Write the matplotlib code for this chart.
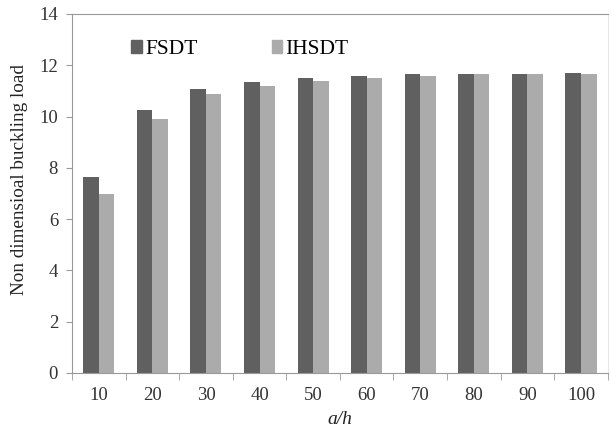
import numpy as np
import matplotlib.pyplot as plt
from matplotlib.patches import Patch

# buckling load vs a/h ratio
ratios = ['10', '20', '30', '40', '50', '60', '70', '80', '90', '100']
fsdt = [7.65, 10.27, 11.09, 11.33, 11.52, 11.60, 11.65, 11.66, 11.66, 11.70]
ihsdt = [6.99, 9.92, 10.86, 11.20, 11.40, 11.52, 11.58, 11.65, 11.65, 11.65]

plt.rcParams['font.family'] = ['Liberation Serif', 'DejaVu Serif']

fig = plt.figure(figsize=(6.11, 4.36), dpi=100)
ax = fig.add_axes([0.1178, 0.1445, 0.877, 0.8235])

x = np.arange(len(ratios))
w = 0.29
c1 = '#606060'
c2 = '#ababab'
ax.bar(x - w / 2, fsdt, w, color=c1)
ax.bar(x + w / 2, ihsdt, w, color=c2)

ax.set_xlim(-0.5, len(ratios) - 0.5)
ax.set_ylim(0, 14)
ax.set_yticks(range(0, 15, 2))

# category labels centred, tick marks between categories
ax.set_xticks(x)
ax.set_xticklabels(ratios, fontsize=13.5, color='#333333')
ax.tick_params(axis='x', which='major', length=0, pad=10)
ax.set_xticks(np.arange(-0.5, len(ratios)), minor=True)
ax.tick_params(axis='x', which='minor', length=5, color='#999999', direction='out')
ax.tick_params(axis='y', labelsize=13.5, length=4, color='#999999', labelcolor='#333333', pad=6)

for s in ['left', 'bottom', 'top']:
    ax.spines[s].set_color('#999999')
ax.spines['right'].set_color('#e6e6e6')

ax.set_ylabel('Non dimensioal buckling load', fontsize=13.8, color='#222222')
ax.yaxis.set_label_coords(-0.083, 0.54)
ax.set_xlabel('a/h', fontsize=14, fontstyle='italic', color='#222222', labelpad=5)

handles = [Patch(color=c1, label='FSDT'), Patch(color=c2, label='IHSDT')]
ax.legend(handles=handles, ncol=2, frameon=False, loc='center left',
          bbox_to_anchor=(0.074, 0.9015), fontsize=15.5, handlelength=0.5,
          handleheight=0.55, handletextpad=0.15, columnspacing=3.45)

fig.savefig('out.png', dpi=100)
